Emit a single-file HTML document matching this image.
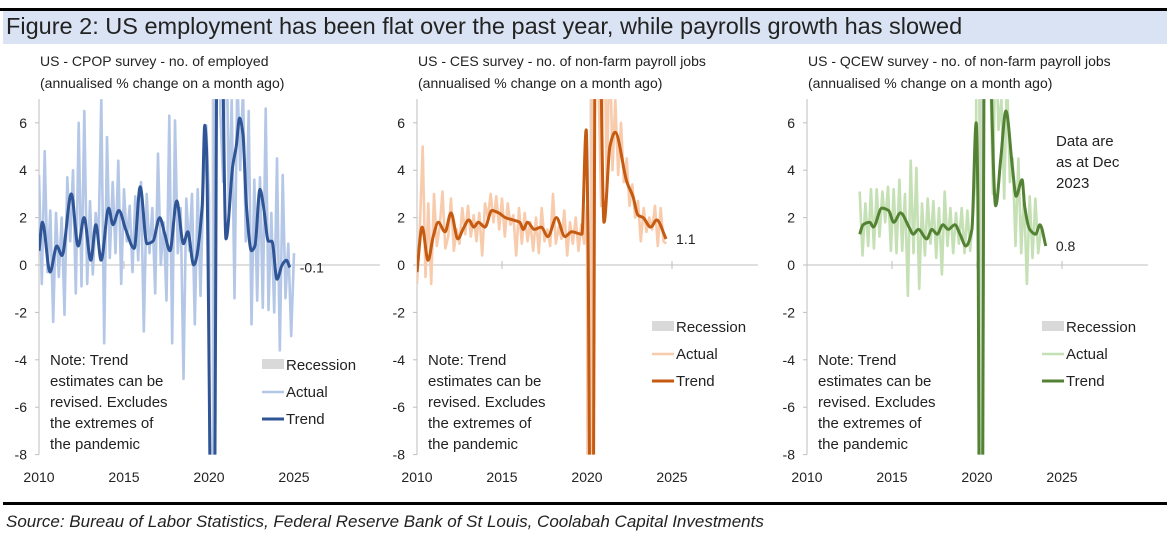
<!DOCTYPE html>
<html><head><meta charset="utf-8"><style>
html,body{margin:0;padding:0;background:#fff;overflow:hidden;width:1167px;height:537px;}
svg{display:block;}
svg text{font-family:"Liberation Sans",sans-serif;fill:#222;}
</style></head><body>
<svg id="fig" width="1167" height="537" viewBox="0 0 1167 537" xmlns="http://www.w3.org/2000/svg">
<rect x="0" y="8" width="1167" height="3" fill="#000"/>
<rect x="3" y="11" width="1164" height="33" fill="#dae3f3"/>
<text x="6" y="34" font-size="23.5">Figure 2: US employment has been flat over the past year, while payrolls growth has slowed</text>
<rect x="3" y="502" width="1164" height="3" fill="#000"/>
<text x="6" y="527" font-size="17" font-style="italic">Source: Bureau of Labor Statistics, Federal Reserve Bank of St Louis, Coolabah Capital Investments</text>
<g id="panels"></g>
</svg>
<script>
// ---- Panel 1: CPOP ----
const p1ActualStart = 2010;
const p1Actual = [3.8,-0.8,4.8,-0.3,2.3,-2.4, 2.2,-0.5,2.0,-2.1,3.7,1.0, 4.0,-1.2,6.0,-0.9,6.5,-0.8, 2.7,-0.4,2.2,1.0,7.0,-3.3,
 5.4,0.3,3.5,0.5,4.4,-0.8, 3.2,1.0,2.5,-0.3,2.9,0.2, 3.5,-2.8,3.0,0.5,2.4,-1.2, 4.7,0.0,1.8,-1.5,6.3,-3.3,
 6.1,0.5,2.4,-4.8,2.8,0.6, 3.0,-2.5,3.2,-1.3,3.2,5.9, 2.8,-60,30,20,6.5,3.5, 12,2.3,7,-1.4,8.0,4.0,
 7.5,1.0,6.5,-2.5,3.6,-1.5, 3.7,-1.8,6.6,-1.9,2.2,-2.0, 4.5,-3.6,3.8,-1.4,0.9,-3.0,0.5];
const p1TrendYears = [2010,2010.2,2010.65,2011.05,2011.35,2011.9,2012.3,2012.65,2013.05,2013.35,2013.65,2014.1,2014.35,2014.7,2015.1,2015.6,2015.95,2016.35,2016.7,2017.1,2017.4,2017.7,2018.1,2018.5,2018.75,2019.1,2019.6,2019.75,2019.85,2020.15,2020.3,2020.5,2020.7,2021.0,2021.4,2021.6,2021.8,2022.0,2022.2,2022.5,2022.7,2023.0,2023.2,2023.5,2023.7,2024.0,2024.3,2024.55,2024.75];
const p1TrendVals = [0.6,1.8,-0.3,0.8,0.4,3.0,0.8,2.0,0.2,1.7,0.2,2.4,1.7,2.3,1.5,0.7,3.3,0.9,1.0,2.0,1.3,0.6,2.7,0.9,1.4,0.0,2.5,5.9,5.0,-12,-12,12,12,1.1,4.2,5.0,6.2,5.5,2.5,0.6,0.8,3.2,2.5,1.0,1.0,-0.6,0.0,0.2,-0.1];
// ---- Panel 2: CES ----
const p2ActualStart = 2010;
const p2Actual = [-0.8,1.5,5.0,-0.5,2.6,-0.8, 3.0,0.8,1.6,3.1,0.7,1.2, 2.8,0.6,1.5,0.9,2.4,1.3, 2.5,1.2,2.1,1.0,2.2,0.4,
 2.6,2.0,3.0,1.8,2.9,1.5, 2.8,1.2,2.6,1.7,2.1,0.4, 2.4,0.9,2.2,1.0,1.8,0.6, 2.0,0.5,2.4,1.0,1.5,0.8,
 3.0,0.9,1.6,1.1,2.3,0.4, 1.8,0.9,2.0,0.6,1.7,0.9, 2.5,-60,40,25,8,2.5, 12,3,10,4,7,3.8,
 6,3.5,4.5,2.5,3.4,2.0, 2.7,1.0,2.4,1.4,2.0,1.5, 2.5,0.8,2.4,1.0,0.9];
const p2TrendYears = [2010,2010.3,2010.65,2010.95,2011.25,2011.65,2012.0,2012.4,2012.7,2013.05,2013.35,2013.6,2014.0,2014.4,2014.8,2015.2,2015.65,2016.05,2016.25,2016.5,2016.9,2017.3,2017.7,2018.2,2018.7,2019.1,2019.7,2019.95,2020.05,2020.2,2020.35,2020.5,2020.7,2021.0,2021.35,2021.65,2022.35,2022.7,2023.0,2023.3,2023.75,2024.1,2024.65];
const p2TrendVals = [-0.3,1.6,0.2,1.2,1.8,1.4,2.2,1.1,1.5,1.9,1.6,1.8,1.6,2.3,2.2,2.0,1.9,1.8,1.5,1.8,1.5,1.6,1.2,2.0,1.2,1.4,1.3,5.7,2.0,-12,-12,12,12,1.8,5.0,5.6,3.5,2.9,2.1,2.0,1.6,1.9,1.1];
// ---- Panel 3: QCEW ----
const p3ActualStart = 2013.1;
const p3Actual = [3.1,0.4,2.6,0.8,3.2,0.7, 3.2,1.2,3.1,1.8,3.3,0.6, 3.2,0.5,3.6,0.6,3.0,-1.3, 4.4,0.5,4.1,-1.0,2.6,0.4,
 2.8,0.9,2.7,0.3,2.4,-0.4, 3.1,0.8,2.4,0.5,2.2,0.9, 2.4,0.5,2.3,0.6,2.1,4.0, 30,-60,35,20,9,3, 10,5.7,7,2.8,8,3.5,
 4.5,0.8,4.5,0.5,3.0,-0.8, 2.9,0.3,2.8,0.5,1.5];
const p3TrendYears = [2013.1,2013.3,2013.7,2013.9,2014.4,2014.8,2015.1,2015.5,2016.0,2016.25,2016.55,2017.05,2017.35,2017.65,2018.0,2018.3,2018.7,2019.0,2019.35,2019.7,2019.95,2020.05,2020.15,2020.3,2020.45,2020.6,2021.1,2021.4,2021.7,2022.1,2022.3,2022.65,2022.8,2023.1,2023.45,2023.7,2024.05];
const p3TrendVals = [1.3,1.7,1.8,1.6,2.4,2.3,1.8,2.2,1.6,1.3,1.5,1.1,1.5,1.3,1.7,1.5,1.7,1.3,0.8,1.5,6.0,3.0,-12,-12,12,12,2.5,4.5,6.5,4.0,2.9,3.6,2.5,1.5,1.3,1.7,0.8];
const yTicks = [6,4,2,0,-2,-4,-6,-8];
const xTicks = [2010,2015,2020,2025];

const panels = [
 {id:'cpop',x0:39,xEnd:380,act:p1Actual,actStart:p1ActualStart,ty:p1TrendYears,tv:p1TrendVals,ca:'#b4c7e7',ct:'#2f5597',
  t1:'US - CPOP survey - no. of employed',endLabel:'-0.1',legY:366,noteY:360},
 {id:'ces',x0:417,xEnd:758,act:p2Actual,actStart:p2ActualStart,ty:p2TrendYears,tv:p2TrendVals,ca:'#f8cbad',ct:'#c55a11',
  t1:'US - CES survey - no. of non-farm payroll jobs',endLabel:'1.1',legY:328,noteY:360},
 {id:'qcew',x0:807,xEnd:1148,act:p3Actual,actStart:p3ActualStart,ty:p3TrendYears,tv:p3TrendVals,ca:'#c5e0b4',ct:'#548235',
  t1:'US - QCEW survey - no. of non-farm payroll jobs',endLabel:'0.8',legY:328,noteY:360}
];
const NS='http://www.w3.org/2000/svg';
const root=document.getElementById('panels');
function mk(tag,attrs,parent){const e=document.createElementNS(NS,tag);for(const k in attrs)e.setAttribute(k,attrs[k]);(parent||root).appendChild(e);return e;}
const yScale=v=>265-v*23.7;
const TOP=yScale(7), BOT=yScale(-8);
// monotone cubic (no overshoot)
function smooth(pts){
 const n=pts.length,dx=[],m=[],t=[];
 for(let i=0;i<n-1;i++){dx[i]=pts[i+1][0]-pts[i][0];m[i]=(pts[i+1][1]-pts[i][1])/dx[i];}
 t[0]=m[0];t[n-1]=m[n-2];
 for(let i=1;i<n-1;i++){t[i]=(m[i-1]*m[i]<=0)?0:(3*(dx[i-1]+dx[i]))/((2*dx[i]+dx[i-1])/m[i-1]+(dx[i]+2*dx[i-1])/m[i]);}
 let d='M'+pts[0][0].toFixed(1)+','+pts[0][1].toFixed(1);
 for(let i=0;i<n-1;i++){const h=dx[i]/3;
  d+=' C'+(pts[i][0]+h).toFixed(1)+','+(pts[i][1]+t[i]*h).toFixed(1)+' '+(pts[i+1][0]-h).toFixed(1)+','+(pts[i+1][1]-t[i+1]*h).toFixed(1)+' '+pts[i+1][0].toFixed(1)+','+pts[i+1][1].toFixed(1);}
 return d;}

panels.forEach((P,pi)=>{
 const xs=y=>P.x0+(y-2010)*17;
 const g=mk('g',{});
 
 
 const cp=mk('clipPath',{id:'clip'+pi},g);
 mk('rect',{x:P.x0,y:TOP,width:P.xEnd-P.x0,height:BOT-TOP},cp);
 const s1=mk('text',{x:P.x0+1,y:66,'font-size':14},g);s1.textContent=P.t1;
 
 
 const s2=mk('text',{x:P.x0+1,y:88,'font-size':14},g);s2.textContent='(annualised % change on a month ago)';
 
 
 const rec=mk('rect',{x:xs(2020.15),y:TOP,width:xs(2020.35)-xs(2020.15),height:BOT-TOP,fill:'#d9d9d9'},g);
 
 
 const ya=mk('line',{x1:P.x0,y1:TOP,x2:P.x0,y2:BOT,stroke:'#bfbfbf','stroke-width':1},g);
 
 
 yTicks.forEach(v=>{
  mk('line',{x1:P.x0-4,x2:P.x0,y1:yScale(v),y2:yScale(v),stroke:'#bfbfbf'},g);
  const t=mk('text',{x:P.x0-12,y:yScale(v)+5,'font-size':14,'text-anchor':'end'},g);t.textContent=v;
  
  
 });
 xTicks.forEach(y=>{
  mk('line',{x1:xs(y),x2:xs(y),y1:yScale(0)-4,y2:yScale(0)+4,stroke:'#bfbfbf'},g);
  const t=mk('text',{x:xs(y),y:482,'font-size':14,'text-anchor':'middle'},g);t.textContent=y;
  
  
 });
 const xa=mk('line',{x1:P.x0,y1:yScale(0),x2:P.xEnd,y2:yScale(0),stroke:'#bfbfbf'},g);
 
 
 const ap=P.act.map((v,i)=>(i?'L':'M')+xs(P.actStart+i/6).toFixed(1)+','+yScale(v).toFixed(1)).join(' ');
 const a=mk('path',{d:ap,fill:'none',stroke:P.ca,'stroke-width':2.6,'stroke-linejoin':'round','clip-path':'url(#clip'+pi+')'},g);
 
 
 const tp=smooth(P.ty.map((y,i)=>[xs(y),yScale(P.tv[i])]));
 const t=mk('path',{d:tp,fill:'none',stroke:P.ct,'stroke-width':3,'stroke-linejoin':'round','clip-path':'url(#clip'+pi+')'},g);
 
 
 const ly=P.tv[P.tv.length-1], lx=xs(P.ty[P.ty.length-1]);
 const el=mk('text',{x:lx+10,y:yScale(ly)+5,'font-size':14},g);el.textContent=P.endLabel;
 
 
 const lx0=P.id==='cpop'?262:P.xEnd-106;
 const lg=mk('g',{},g);
 
 
 mk('rect',{x:lx0,y:P.legY-7,width:22,height:10,fill:'#d9d9d9'},lg);
 const r1=mk('text',{x:lx0+24,y:P.legY+4,'font-size':15},lg);r1.textContent='Recession';
 mk('line',{x1:lx0,x2:lx0+22,y1:P.legY+26,y2:P.legY+26,stroke:P.ca,'stroke-width':2.6},lg);
 const r2=mk('text',{x:lx0+24,y:P.legY+31,'font-size':15},lg);r2.textContent='Actual';
 mk('line',{x1:lx0,x2:lx0+22,y1:P.legY+53,y2:P.legY+53,stroke:P.ct,'stroke-width':3},lg);
 const r3=mk('text',{x:lx0+24,y:P.legY+58,'font-size':15},lg);r3.textContent='Trend';
 const nt=mk('text',{x:P.x0+11,y:P.noteY+5,'font-size':15},g);
 
 
 ['Note: Trend','estimates can be','revised. Excludes','the extremes of','the pandemic'].forEach((s,i)=>{const ts=mk('tspan',{x:P.x0+11,dy:i?21:0},nt);ts.textContent=s;});
 if(P.id==='qcew'){
  const dn=mk('text',{x:1056,y:146,'font-size':15},g);
  
  
  ['Data are','as at Dec','2023'].forEach((s,i)=>{const ts=mk('tspan',{x:1056,dy:i?21:0},dn);ts.textContent=s;});
 }
});
</script>
</body></html>
